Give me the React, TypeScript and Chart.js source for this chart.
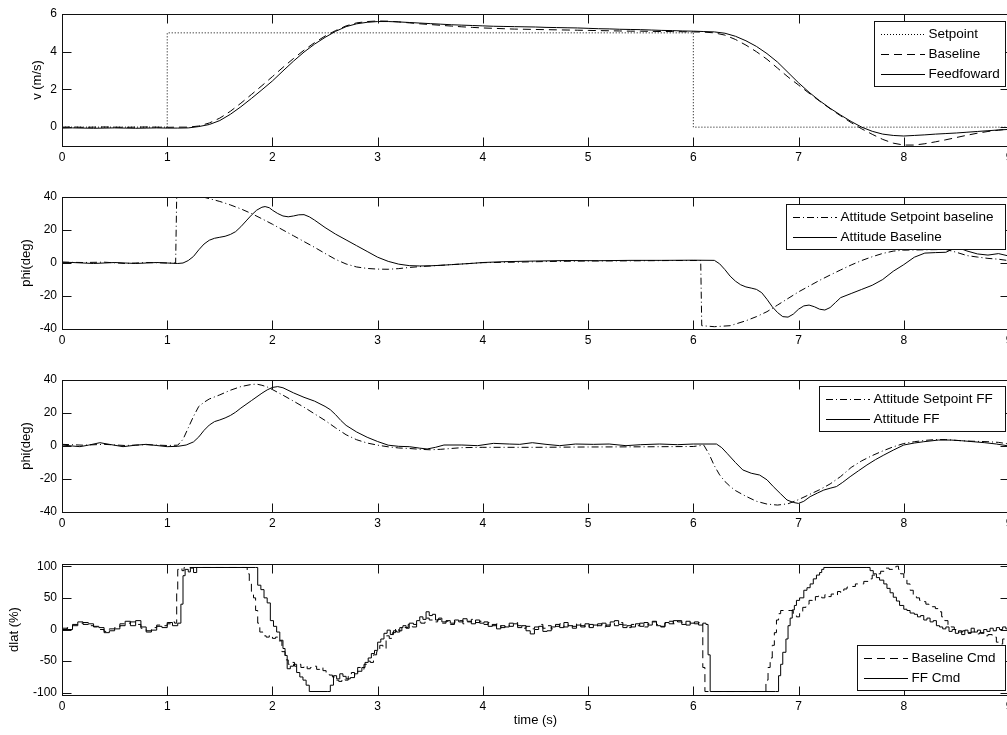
import React, { useEffect, useRef } from 'react';
import { Chart, registerables } from 'chart.js';

Chart.register(...registerables);

const FONT = '"Liberation Sans", Arial, Helvetica, sans-serif';

// ---------------- data ----------------
const xTicks = [0, 1, 2, 3, 4, 5, 6, 7, 8, 9];
const vTicks = [0, 2, 4, 6];
const phiTicks = [-40, -20, 0, 20, 40];
const dlatTicks = [-100, -50, 0, 50, 100];

const vTime = [
  0.0, 0.1, 0.2, 0.3, 0.4, 0.5, 0.6, 0.7, 0.8, 0.9, 1.0, 1.1, 1.2, 1.3, 1.4, 1.5, 1.6, 1.7, 1.8, 1.9,
  2.0, 2.1, 2.2, 2.3, 2.4, 2.5, 2.6, 2.7, 2.8, 2.9, 3.0, 3.1, 3.2, 3.3, 3.4, 3.5, 3.6, 3.7, 3.8, 3.9,
  4.0, 4.1, 4.2, 4.3, 4.4, 4.5, 4.6, 4.7, 4.8, 4.9, 5.0, 5.1, 5.2, 5.3, 5.4, 5.5, 5.6, 5.7, 5.8, 5.9,
  6.0, 6.1, 6.2, 6.3, 6.4, 6.5, 6.6, 6.7, 6.8, 6.9, 7.0, 7.1, 7.2, 7.3, 7.4, 7.5, 7.6, 7.7, 7.8, 7.9,
  8.0, 8.1, 8.2, 8.3, 8.4, 8.5, 8.6, 8.7, 8.8, 8.9, 9.0,
];
const vSetpointT = [0, 1, 1, 6, 6, 9];
const vSetpointV = [0, 0, 5, 5, 0, 0];
const vBaseline = [
  0.0, 0.01, -0.01, 0.0, 0.01, 0.0, -0.01, 0.0, 0.01, 0.0, -0.01, 0.0, 0.0, 0.06, 0.22, 0.48, 0.84, 1.27, 1.73, 2.2,
  2.68, 3.17, 3.64, 4.08, 4.48, 4.83, 5.12, 5.37, 5.53, 5.6, 5.63, 5.62, 5.58, 5.53, 5.48, 5.44, 5.4, 5.36, 5.32, 5.29,
  5.26, 5.24, 5.22, 5.2, 5.19, 5.18, 5.17, 5.16, 5.15, 5.14, 5.13, 5.12, 5.11, 5.1, 5.09, 5.09, 5.08, 5.07, 5.07, 5.06,
  5.05, 5.04, 5.0, 4.88, 4.65, 4.35, 4.0, 3.6, 3.13, 2.66, 2.23, 1.8, 1.38, 0.98, 0.6, 0.24, -0.09, -0.38, -0.65, -0.85,
  -0.95, -0.95, -0.88, -0.78, -0.67, -0.55, -0.43, -0.32, -0.23, -0.16, -0.1,
];
const vFeedforward = [
  -0.05, -0.04, -0.05, -0.06, -0.05, -0.04, -0.05, -0.06, -0.05, -0.04, -0.05, -0.05, -0.04, 0.03, 0.14, 0.35, 0.68, 1.08, 1.52, 1.98,
  2.45, 2.98, 3.5, 3.98, 4.4, 4.76, 5.08, 5.33, 5.48, 5.56, 5.6, 5.6, 5.58, 5.55, 5.52, 5.49, 5.46, 5.43, 5.41, 5.39,
  5.37, 5.35, 5.34, 5.33, 5.32, 5.31, 5.29, 5.28, 5.27, 5.26, 5.24, 5.22, 5.21, 5.19, 5.18, 5.17, 5.15, 5.13, 5.12, 5.1,
  5.09, 5.07, 5.05, 4.98, 4.82, 4.58, 4.28, 3.9, 3.45, 2.9, 2.35, 1.85, 1.4, 1.0, 0.64, 0.3, 0.0, -0.22, -0.37, -0.44,
  -0.47, -0.44, -0.41, -0.37, -0.34, -0.31, -0.27, -0.23, -0.19, -0.15, -0.12,
];

// [time, value]
const phiSetpointBaseline: [number, number][] = [
  [0, 0.5], [0.2, 0.3], [0.4, 0.5], [0.6, -0.3], [0.8, 0.3], [1.0, 0], [1.08, 0], [1.09, 40], [1.1, 43], [1.2, 43],
  [1.3, 41], [1.34, 40], [1.4, 39], [1.5, 37.3], [1.6, 35.2], [1.7, 32.8], [1.8, 30], [1.9, 26.8], [2.0, 23.5], [2.1, 20],
  [2.2, 16.5], [2.3, 13], [2.4, 9.5], [2.5, 5.8], [2.6, 2.2], [2.7, -0.6], [2.8, -2.4], [2.9, -3.3], [3.0, -3.7], [3.1, -3.8],
  [3.2, -3.4], [3.3, -2.7], [3.4, -2.2], [3.5, -1.8], [3.6, -1.4], [3.7, -1.0], [3.8, -0.6], [3.9, -0.2], [4.0, 0.2], [4.3, 0.5],
  [4.6, 0.9], [5.0, 1.2], [5.4, 1.3], [5.8, 1.5], [6.07, 1.5], [6.08, -38], [6.2, -38.6], [6.35, -38], [6.5, -35], [6.6, -32.5],
  [6.7, -29.5], [6.8, -25.5], [6.9, -21.5], [7.0, -17.5], [7.1, -14], [7.2, -10.5], [7.3, -7.3], [7.4, -4.2], [7.5, -1.2], [7.6, 1.5],
  [7.7, 3.8], [7.8, 5.8], [7.9, 7.2], [8.0, 7.8], [8.2, 8], [8.4, 8.2], [8.5, 6.5], [8.6, 4.5], [8.7, 3.6], [8.8, 2.8],
  [8.9, 2.3], [9.0, 1.4],
];
const phiBaseline: [number, number][] = [
  [0, 0.5], [0.1, 0.3], [0.2, 0], [0.3, -0.3], [0.4, 0], [0.5, 0.3], [0.6, 0], [0.7, -0.3], [0.8, 0], [0.9, 0.3],
  [1.0, 0], [1.1, -0.3], [1.15, 0], [1.2, 1.5], [1.25, 4], [1.3, 8], [1.35, 11.5], [1.4, 13.8], [1.45, 15], [1.5, 15.6],
  [1.55, 16.2], [1.6, 17.3], [1.65, 19], [1.7, 22], [1.75, 25.5], [1.8, 29], [1.85, 32], [1.9, 33.8], [1.93, 34.2], [1.97, 33.5],
  [2.0, 32], [2.05, 30], [2.1, 28.5], [2.15, 28], [2.2, 28.5], [2.25, 29.2], [2.3, 29.3], [2.35, 28], [2.4, 26], [2.5, 21.5],
  [2.6, 17.5], [2.7, 14], [2.8, 10.5], [2.9, 7], [3.0, 3.5], [3.1, 1], [3.2, -0.7], [3.3, -1.6], [3.4, -1.8], [3.5, -1.7],
  [3.6, -1.4], [3.7, -1], [3.8, -0.6], [3.9, -0.2], [4.0, 0.3], [4.2, 0.8], [4.5, 1.2], [4.8, 1.5], [5.1, 1.4], [5.4, 1.6],
  [5.7, 1.6], [6.0, 1.7], [6.2, 1.6], [6.25, -0.5], [6.3, -4], [6.35, -8], [6.4, -11], [6.45, -13.2], [6.5, -14.5], [6.55, -15.2],
  [6.6, -16], [6.65, -18], [6.7, -22], [6.75, -26.5], [6.8, -30], [6.85, -32.5], [6.9, -32.8], [6.95, -31], [7.0, -28], [7.05, -26],
  [7.1, -25.5], [7.15, -26.5], [7.2, -28], [7.25, -28.5], [7.3, -27], [7.35, -24], [7.4, -21], [7.5, -18.5], [7.6, -16], [7.7, -13.5],
  [7.8, -10], [7.9, -5], [8.0, -1], [8.1, 3.5], [8.2, 6], [8.3, 6.3], [8.4, 6.5], [8.45, 8], [8.5, 8.8], [8.55, 8.5],
  [8.6, 7.3], [8.7, 5.5], [8.8, 4.8], [8.9, 5.7], [9.0, 4.2],
];
const phiSetpointFF: [number, number][] = [
  [0, 1], [0.2, 0.5], [0.4, 1], [0.6, 0.3], [0.8, 0.8], [1.0, 0.3], [1.1, 0.5], [1.15, 4], [1.2, 11], [1.25, 18],
  [1.3, 24], [1.35, 26.5], [1.4, 28.5], [1.5, 31], [1.6, 33.8], [1.7, 36], [1.8, 37.3], [1.85, 37.5], [1.9, 36.8], [1.95, 35.8],
  [2.0, 34.2], [2.1, 30.8], [2.2, 27.2], [2.3, 23.5], [2.4, 19.5], [2.5, 15.5], [2.6, 11], [2.7, 6.8], [2.8, 3.8], [2.9, 1.8],
  [3.0, 0.5], [3.1, -0.5], [3.2, -1.2], [3.3, -1.5], [3.4, -2], [3.5, -2.3], [3.6, -2], [3.7, -1.5], [3.8, -1], [4.0, -0.8],
  [4.5, -0.8], [5.0, -0.6], [5.5, -0.5], [6.0, -0.3], [6.1, 0.5], [6.15, -5], [6.2, -12], [6.25, -17.5], [6.3, -21.5], [6.35, -24.5],
  [6.4, -27], [6.5, -30.5], [6.6, -33.5], [6.7, -35.2], [6.8, -35.8], [6.9, -35], [7.0, -32.5], [7.1, -29.5], [7.2, -26.5], [7.3, -23],
  [7.4, -18.5], [7.5, -13], [7.6, -9], [7.7, -5.8], [7.8, -3], [7.9, -0.5], [8.0, 1.5], [8.1, 2.6], [8.2, 3.4], [8.3, 3.9],
  [8.4, 3.9], [8.5, 3.4], [8.6, 3], [8.7, 2.8], [8.8, 2.6], [8.9, 2.2], [9.0, 1.2],
];
const phiFF: [number, number][] = [
  [0, 0.6], [0.1, 0], [0.17, -0.4], [0.25, 0.5], [0.36, 2], [0.45, 1], [0.58, -0.4], [0.7, 0.5], [0.8, 1], [0.9, 0.3],
  [1.0, -0.4], [1.1, -0.2], [1.18, 0.6], [1.25, 2.5], [1.3, 5.5], [1.35, 9.5], [1.4, 12.7], [1.45, 14.8], [1.5, 15.8], [1.55, 17],
  [1.6, 18.5], [1.65, 20.5], [1.7, 23], [1.8, 27.5], [1.9, 32], [1.95, 34], [2.0, 35.5], [2.05, 36], [2.1, 35.3], [2.2, 32.2],
  [2.3, 29.5], [2.4, 27.2], [2.5, 24], [2.55, 22], [2.6, 19], [2.65, 15.5], [2.7, 12.5], [2.8, 8.5], [2.9, 5.3], [3.0, 2.7],
  [3.1, 0.5], [3.2, -0.2], [3.3, -0.4], [3.4, -1.3], [3.47, -1.8], [3.55, -0.8], [3.63, 0.6], [3.8, 0.6], [3.95, 0.2], [4.1, 1.6],
  [4.25, 1.2], [4.35, 1], [4.47, 2], [4.6, 1], [4.73, 0.2], [4.88, 1.2], [5.05, 1], [5.2, 1.2], [5.36, 0.2], [5.5, 0.8],
  [5.68, 1.2], [5.85, 0.8], [6.0, 1.2], [6.22, 1.2], [6.27, -1], [6.32, -4.4], [6.4, -10], [6.47, -14.5], [6.55, -16.5], [6.63, -17.6],
  [6.7, -20.5], [6.76, -24.6], [6.83, -29], [6.89, -32.7], [6.95, -34.2], [7.0, -34.8], [7.05, -33.5], [7.11, -30.7], [7.18, -28.5], [7.24, -26.7],
  [7.3, -25.6], [7.36, -24.6], [7.42, -22], [7.49, -18.6], [7.57, -15], [7.65, -11.5], [7.73, -8.3], [7.81, -5.5], [7.9, -2.5], [8.0, 0.6],
  [8.1, 1.8], [8.19, 2.6], [8.33, 3.6], [8.45, 3.6], [8.55, 3.2], [8.66, 2.6], [8.77, 2], [8.88, 1.2], [9.0, 0],
];
const dlatBaselineCmd: [number, number][] = [
  [0, 0], [0.05, 3], [0.1, 8], [0.15, 10], [0.2, 11], [0.25, 6], [0.3, 4], [0.35, 0], [0.4, -3], [0.45, 1],
  [0.5, 3], [0.55, 9], [0.6, 10], [0.65, 12], [0.7, 8], [0.75, 2], [0.8, -2], [0.85, 3], [0.9, 7], [0.95, 6],
  [1.0, 9], [1.05, 12], [1.07, 10], [1.09, 60], [1.1, 95], [1.12, 97], [1.14, 93], [1.16, 98], [1.74, 98], [1.76, 88],
  [1.78, 72], [1.8, 60], [1.82, 50], [1.84, 30], [1.86, 10], [1.88, -4], [1.91, -10], [1.94, -12], [1.97, -9], [2.0, -14],
  [2.03, -12], [2.06, -18], [2.09, -35], [2.12, -48], [2.15, -55], [2.18, -52], [2.21, -58], [2.24, -55], [2.27, -60], [2.3, -57],
  [2.33, -62], [2.36, -60], [2.39, -58], [2.42, -63], [2.45, -60], [2.48, -65], [2.51, -68], [2.54, -72], [2.57, -75], [2.6, -80],
  [2.63, -82], [2.66, -78], [2.69, -80], [2.72, -74], [2.75, -68], [2.78, -72], [2.81, -60], [2.84, -63], [2.87, -55], [2.9, -50],
  [2.93, -52], [2.96, -40], [2.99, -35], [3.02, -25], [3.05, -30], [3.08, -10], [3.11, -14], [3.14, -5], [3.17, 2], [3.2, -2],
  [3.23, 5], [3.26, 3], [3.29, 8], [3.33, 4], [3.37, 12], [3.41, 10], [3.45, 18], [3.49, 15], [3.53, 12], [3.57, 16],
  [3.61, 10], [3.65, 13], [3.69, 8], [3.73, 12], [3.77, 14], [3.81, 9], [3.85, 12], [3.89, 16], [3.93, 11], [3.97, 13],
  [4.01, 8], [4.05, 11], [4.09, 6], [4.13, 9], [4.17, 3], [4.21, 7], [4.25, 5], [4.29, 11], [4.33, 6], [4.37, 2],
  [4.41, 5], [4.45, 1], [4.49, 4], [4.53, 8], [4.57, 2], [4.61, 6], [4.65, 1], [4.69, 5], [4.73, 9], [4.77, 4],
  [4.81, 8], [4.85, 5], [4.89, 10], [4.93, 6], [4.97, 3], [5.01, 8], [5.05, 5], [5.09, 9], [5.13, 4], [5.17, 7],
  [5.21, 10], [5.25, 6], [5.29, 11], [5.33, 7], [5.37, 3], [5.41, 8], [5.45, 6], [5.49, 10], [5.53, 4], [5.57, 9],
  [5.61, 12], [5.65, 8], [5.69, 5], [5.73, 10], [5.77, 13], [5.81, 9], [5.85, 14], [5.89, 11], [5.93, 7], [5.97, 12],
  [6.01, 9], [6.05, 11], [6.07, 8], [6.09, -60], [6.11, -98], [6.67, -98], [6.69, -80], [6.71, -60], [6.73, -45], [6.75, -25],
  [6.77, -5], [6.79, 15], [6.81, 25], [6.83, 30], [6.92, 30], [6.95, 22], [6.98, 20], [7.01, 28], [7.04, 35], [7.07, 40],
  [7.1, 46], [7.13, 44], [7.16, 52], [7.19, 54], [7.22, 50], [7.25, 55], [7.28, 52], [7.31, 56], [7.34, 54], [7.37, 60],
  [7.4, 58], [7.43, 64], [7.46, 67], [7.5, 68], [7.54, 72], [7.58, 72], [7.62, 76], [7.66, 80], [7.7, 86], [7.74, 88],
  [7.78, 92], [7.82, 97], [7.86, 95], [7.9, 99], [7.93, 100], [7.95, 95], [7.97, 88], [8.0, 80], [8.03, 72], [8.06, 62],
  [8.09, 55], [8.12, 50], [8.15, 46], [8.18, 44], [8.21, 40], [8.24, 38], [8.27, 36], [8.3, 33], [8.33, 28], [8.36, 20],
  [8.39, 14], [8.42, 7], [8.45, 4], [8.48, 0], [8.52, -4], [8.56, -2], [8.6, -6], [8.64, -4], [8.68, -7], [8.72, -5],
  [8.76, -10], [8.8, -8], [8.84, -12], [8.88, -20], [8.91, -23], [8.94, -15], [8.97, -18], [9.0, -12],
];
const dlatFFCmd: [number, number][] = [
  [0, 2], [0.05, 0], [0.1, 6], [0.15, 12], [0.2, 8], [0.25, 9], [0.3, 5], [0.35, 3], [0.4, -5], [0.45, -2],
  [0.5, 1], [0.55, 6], [0.6, 13], [0.65, 6], [0.7, 14], [0.75, 4], [0.8, -4], [0.85, -1], [0.9, 5], [0.95, 3],
  [1.0, 11], [1.05, 6], [1.1, 10], [1.13, 40], [1.15, 85], [1.17, 95], [1.2, 91], [1.22, 97], [1.25, 90], [1.28, 98],
  [1.84, 98], [1.86, 70], [1.89, 63], [1.92, 50], [1.95, 42], [1.98, 14], [2.01, 5], [2.04, -4], [2.07, -17], [2.1, -30],
  [2.12, -41], [2.14, -62], [2.17, -58], [2.2, -55], [2.23, -68], [2.26, -75], [2.29, -80], [2.32, -88], [2.35, -98], [2.52, -98],
  [2.55, -88], [2.58, -73], [2.61, -78], [2.64, -70], [2.67, -74], [2.7, -78], [2.74, -76], [2.78, -70], [2.81, -66], [2.85, -60],
  [2.88, -52], [2.91, -45], [2.94, -38], [2.97, -33], [3.0, -20], [3.03, -15], [3.06, -6], [3.09, -1], [3.12, -8], [3.15, -2],
  [3.18, -4], [3.21, 3], [3.24, 6], [3.27, 2], [3.3, 10], [3.34, 8], [3.37, 14], [3.4, 20], [3.43, 16], [3.46, 28],
  [3.49, 22], [3.52, 24], [3.55, 15], [3.58, 18], [3.61, 12], [3.65, 14], [3.69, 10], [3.73, 15], [3.77, 12], [3.81, 17],
  [3.85, 13], [3.89, 9], [3.93, 15], [3.97, 10], [4.01, 12], [4.05, 5], [4.09, 8], [4.13, 1], [4.17, 6], [4.21, 4],
  [4.25, 10], [4.29, 9], [4.33, 3], [4.37, 6], [4.41, -2], [4.45, -7], [4.49, 0], [4.53, 5], [4.57, -3], [4.61, -2],
  [4.65, 4], [4.69, 8], [4.73, 3], [4.77, 11], [4.81, 6], [4.85, 2], [4.89, 7], [4.93, 4], [4.97, 9], [5.01, 3],
  [5.05, 7], [5.09, 6], [5.13, 10], [5.17, 5], [5.21, 12], [5.25, 14], [5.29, 8], [5.33, 3], [5.37, 6], [5.41, 4],
  [5.45, 9], [5.49, 5], [5.53, 11], [5.57, 7], [5.61, 13], [5.65, 6], [5.69, 4], [5.73, 11], [5.77, 9], [5.81, 14],
  [5.85, 12], [5.89, 8], [5.93, 13], [5.97, 10], [6.01, 12], [6.05, 7], [6.09, 10], [6.12, 8], [6.14, -40], [6.16, -98],
  [6.78, -98], [6.81, -73], [6.83, -55], [6.85, -36], [6.88, -15], [6.9, 6], [6.92, 18], [6.94, 31], [6.96, 38], [6.98, 46],
  [7.01, 50], [7.05, 62], [7.08, 66], [7.11, 72], [7.14, 80], [7.17, 86], [7.2, 90], [7.22, 95], [7.24, 98], [7.65, 98],
  [7.68, 93], [7.71, 88], [7.74, 82], [7.77, 78], [7.81, 72], [7.84, 65], [7.87, 58], [7.9, 51], [7.93, 45], [7.96, 38],
  [8.0, 32], [8.03, 30], [8.06, 26], [8.1, 24], [8.13, 20], [8.16, 22], [8.19, 15], [8.22, 18], [8.25, 12], [8.28, 14],
  [8.31, 6], [8.34, 4], [8.37, 1], [8.4, 4], [8.43, -3], [8.46, 0], [8.49, -6], [8.52, -2], [8.55, -8], [8.58, -1],
  [8.61, -5], [8.64, 2], [8.67, -4], [8.7, -1], [8.73, -6], [8.76, 0], [8.79, -3], [8.82, 2], [8.85, -2], [8.88, 3],
  [8.91, 0], [8.94, 4], [8.97, 1], [9.0, 2],
];

// ---------------- styles ----------------
const DOT = [1, 2];
const DASH = [8, 5];
const DASHDOT = [7, 3, 1, 3];
const SOLID: number[] = [];

const zip = (t: number[], v: number[]) => t.map((x, i) => ({ x, y: v[i] }));
const fromPairs = (p: [number, number][]) => p.map(([x, y]) => ({ x, y }));

const line = (label: string, data: any[], dash: number[], stepped = false) => ({
  label,
  data,
  borderColor: '#000',
  backgroundColor: '#000',
  borderWidth: 1,
  borderDash: dash,
  pointRadius: 0,
  fill: false,
  tension: 0,
  stepped,
});

type LegendItem = { label: string; dash: number[] };

const framePlugin = {
  id: 'frame',
  afterDatasetsDraw(chart: any) {
    const { ctx, chartArea: a, scales } = chart;
    ctx.save();
    ctx.strokeStyle = '#111';
    ctx.lineWidth = 1;
    ctx.setLineDash([]);
    const L = Math.round(a.left) + 0.5;
    const R = Math.round(a.right) + 0.5;
    const T = Math.round(a.top) + 0.5;
    const B = Math.round(a.bottom) + 0.5;
    ctx.strokeRect(L, T, R - L, B - T);
    ctx.beginPath();
    for (const t of scales.x.ticks) {
      const px = Math.round(scales.x.getPixelForValue(t.value)) + 0.5;
      ctx.moveTo(px, B);
      ctx.lineTo(px, B - 9);
      ctx.moveTo(px, T);
      ctx.lineTo(px, T + 9);
    }
    for (const t of scales.y.ticks) {
      const py = Math.round(scales.y.getPixelForValue(t.value)) + 0.5;
      ctx.moveTo(L, py);
      ctx.lineTo(L + 9, py);
      ctx.moveTo(R, py);
      ctx.lineTo(R - 9, py);
    }
    ctx.stroke();
    ctx.restore();
  },
  afterDraw(chart: any, _args: any, opts: any) {
    const lg = opts && opts.legend;
    if (!lg) return;
    const { ctx, chartArea: a } = chart;
    const items: LegendItem[] = lg.items;
    const h = 13 + 20 * (items.length - 1) + 12;
    const right = Math.round(a.right) - 4;
    const left = right - lg.width;
    const top = lg.anchor === 'top' ? Math.round(a.top) + lg.offset : Math.round(a.bottom) - lg.offset - h;
    ctx.save();
    ctx.fillStyle = '#fff';
    ctx.fillRect(left, top, lg.width, h);
    ctx.strokeStyle = '#111';
    ctx.lineWidth = 1;
    ctx.setLineDash([]);
    ctx.strokeRect(left + 0.5, top + 0.5, lg.width, h);
    ctx.font = `13.5px ${FONT}`;
    ctx.textBaseline = 'middle';
    ctx.textAlign = 'left';
    items.forEach((it, i) => {
      const y = top + 13 + 20 * i + 0.5;
      ctx.strokeStyle = '#000';
      ctx.setLineDash(it.dash);
      ctx.beginPath();
      ctx.moveTo(left + 7, y);
      ctx.lineTo(left + 51, y);
      ctx.stroke();
      ctx.setLineDash([]);
      ctx.fillStyle = '#000';
      ctx.fillText(it.label, left + 54.5, y);
    });
    ctx.restore();
  },
};

interface PanelDef {
  top: number;
  height: number;
  axisH: number;
  yMin: number;
  yMax: number;
  yTicks: number[];
  yTitle: string;
  yTitlePad: number;
  xTitle?: string;
  datasets: any[];
  legend: { items: LegendItem[]; width: number; anchor: 'top' | 'bottom'; offset: number };
}

const CANVAS_W = 1030;

const panels: PanelDef[] = [
  {
    top: 4, height: 167, axisH: 25, yMin: -1, yMax: 6, yTicks: vTicks, yTitle: 'v (m/s)', yTitlePad: 30,
    datasets: [
      line('Setpoint', zip(vSetpointT, vSetpointV), DOT),
      line('Baseline', zip(vTime, vBaseline), DASH),
      line('Feedfoward', zip(vTime, vFeedforward), SOLID),
    ],
    legend: {
      items: [
        { label: 'Setpoint', dash: DOT },
        { label: 'Baseline', dash: DASH },
        { label: 'Feedfoward', dash: SOLID },
      ],
      width: 131, anchor: 'top', offset: 7,
    },
  },
  {
    top: 187, height: 167, axisH: 25, yMin: -40, yMax: 40, yTicks: phiTicks, yTitle: 'phi(deg)', yTitlePad: 19,
    datasets: [
      line('Attitude Setpoint baseline', fromPairs(phiSetpointBaseline), DASHDOT),
      line('Attitude Baseline', fromPairs(phiBaseline), SOLID),
    ],
    legend: {
      items: [
        { label: 'Attitude Setpoint baseline', dash: DASHDOT },
        { label: 'Attitude Baseline', dash: SOLID },
      ],
      width: 219, anchor: 'top', offset: 7,
    },
  },
  {
    top: 370, height: 167, axisH: 25, yMin: -40, yMax: 40, yTicks: phiTicks, yTitle: 'phi(deg)', yTitlePad: 19,
    datasets: [
      line('Attitude Setpoint FF', fromPairs(phiSetpointFF), DASHDOT),
      line('Attitude FF', fromPairs(phiFF), SOLID),
    ],
    legend: {
      items: [
        { label: 'Attitude Setpoint FF', dash: DASHDOT },
        { label: 'Attitude FF', dash: SOLID },
      ],
      width: 186, anchor: 'top', offset: 6,
    },
  },
  {
    top: 554, height: 181, axisH: 40, yMin: -103.5, yMax: 103.5, yTicks: dlatTicks, yTitle: 'dlat (%)', yTitlePad: 7,
    xTitle: 'time (s)',
    datasets: [
      line('Baseline Cmd', fromPairs(dlatBaselineCmd), DASH, true),
      line('FF Cmd', fromPairs(dlatFFCmd), SOLID, true),
    ],
    legend: {
      items: [
        { label: 'Baseline Cmd', dash: DASH },
        { label: 'FF Cmd', dash: SOLID },
      ],
      width: 148, anchor: 'bottom', offset: 5,
    },
  },
];

function makeConfig(p: PanelDef): any {
  return {
    type: 'line',
    data: { datasets: p.datasets },
    options: {
      animation: false,
      responsive: false,
      devicePixelRatio: 1,
      events: [],
      layout: { padding: { top: 10, right: 21, left: 0, bottom: 0 } },
      plugins: {
        legend: { display: false },
        tooltip: { enabled: false },
        frame: { legend: p.legend },
      },
      scales: {
        x: {
          type: 'linear',
          min: 0,
          max: 9,
          grid: { display: false, drawTicks: false },
          border: { display: false },
          ticks: { autoSkip: false, maxRotation: 0, padding: 4, color: '#000', font: { family: FONT, size: 12 } },
          afterBuildTicks: (s: any) => {
            s.ticks = xTicks.map((v) => ({ value: v }));
          },
          afterFit: (s: any) => {
            s.height = p.axisH;
            s.paddingLeft = 0;
            s.paddingRight = 0;
          },
          title: p.xTitle
            ? { display: true, text: p.xTitle, color: '#000', font: { family: FONT, size: 13 }, padding: { top: 0, bottom: 7 } }
            : { display: false },
        },
        y: {
          type: 'linear',
          min: p.yMin,
          max: p.yMax,
          grid: { display: false, drawTicks: false },
          border: { display: false },
          ticks: { autoSkip: false, padding: 5, color: '#000', font: { family: FONT, size: 12 } },
          afterBuildTicks: (s: any) => {
            s.ticks = p.yTicks.map((v) => ({ value: v }));
          },
          afterFit: (s: any) => {
            s.width = 62;
            s.paddingTop = 0;
            s.paddingBottom = 0;
          },
          title: { display: true, text: p.yTitle, color: '#000', font: { family: FONT, size: 13 }, padding: { top: p.yTitlePad, bottom: 0 } },
        },
      },
    },
    plugins: [framePlugin],
  };
}

function Panel({ def }: { def: PanelDef }) {
  const ref = useRef<HTMLCanvasElement | null>(null);
  useEffect(() => {
    if (!ref.current) return;
    const chart = new Chart(ref.current, makeConfig(def));
    return () => chart.destroy();
  }, [def]);
  return (
    <canvas
      ref={ref}
      width={CANVAS_W}
      height={def.height}
      style={{ position: 'absolute', left: 0, top: def.top, width: CANVAS_W, height: def.height, display: 'block' }}
    />
  );
}

export default function App() {
  return (
    <div
      style={{
        position: 'absolute',
        left: 0,
        top: 0,
        width: 1007,
        height: 735,
        overflow: 'hidden',
        background: '#fff',
      }}
    >
      {panels.map((p, i) => (
        <Panel key={i} def={p} />
      ))}
    </div>
  );
}
